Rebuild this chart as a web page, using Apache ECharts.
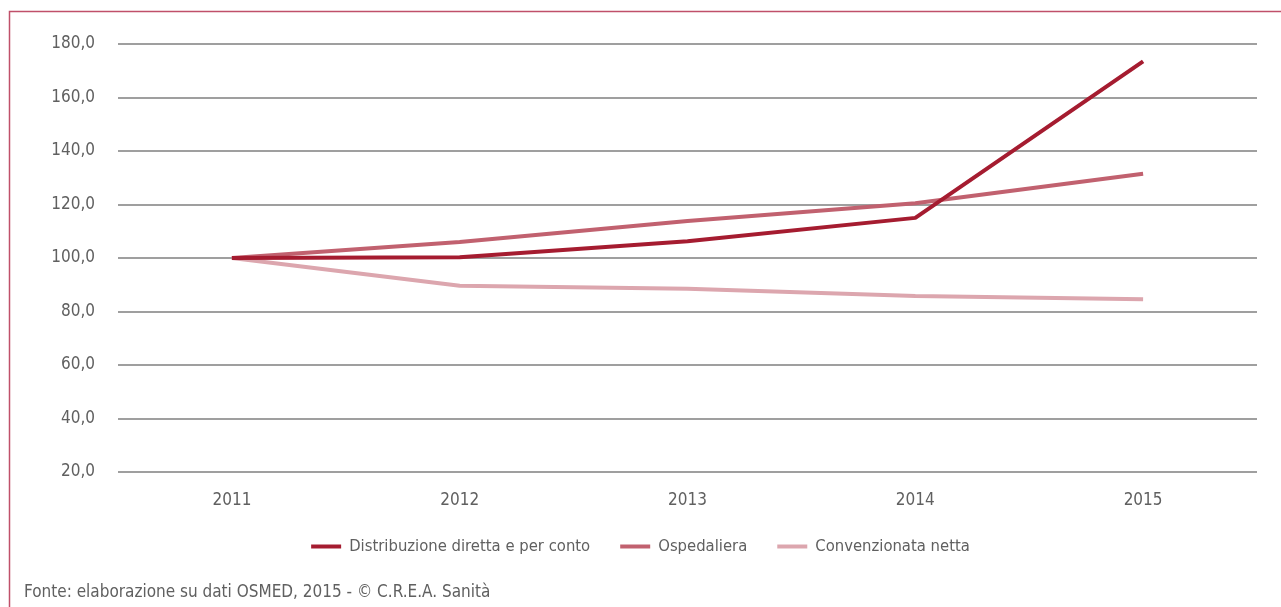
<!DOCTYPE html>
<html>
<head>
<meta charset="utf-8">
<style>
html,body{margin:0;padding:0;background:#fff;}
#c{width:1281px;height:607px;}
</style>
<script src="https://cdn.jsdelivr.net/npm/echarts@6/dist/echarts.min.js"></script>
</head>
<body>
<div id="c"></div>
<script>
const years = ['2011','2012','2013','2014','2015'];
const distribuzione = [100.0, 100.3, 106.3, 115.0, 173.5];
const ospedaliera = [100.0, 106.0, 113.8, 120.5, 131.5];
const convenzionata = [100.0, 89.6, 88.5, 85.8, 84.6];
const seriesNames = ['Distribuzione diretta e per conto', 'Ospedaliera', 'Convenzionata netta'];
const sourceText = 'Fonte: elaborazione su dati OSMED, 2015 - © C.R.E.A. Sanità';

const FONT = '"DejaVu Sans Condensed", "Liberation Sans", sans-serif';
const TXT = '#606060';
const colors = ['#a51c30', '#c1616f', '#dca6ae'];
const chart = echarts.init(document.getElementById('c'), null, {renderer: 'canvas'});
chart.setOption({
  animation: false,
  color: colors,
  textStyle: {fontFamily: FONT},
  grid: {left: 118, right: 24, top: 44, bottom: 135, containLabel: false},
  xAxis: {
    type: 'category',
    data: years,
    boundaryGap: true,
    axisLine: {show: false},
    axisTick: {show: false},
    axisLabel: {color: TXT, fontSize: 17, fontFamily: FONT, margin: 20}
  },
  yAxis: {
    type: 'value',
    min: 20, max: 180, interval: 20,
    axisLine: {show: false},
    axisTick: {show: false},
    axisLabel: {color: TXT, fontSize: 17, fontFamily: FONT, margin: 23,
      formatter: v => v.toFixed(1).replace('.', ',')},
    splitLine: {lineStyle: {color: '#7f7f7f', width: 1.5}}
  },
  legend: {
    bottom: 47,
    left: 'center',
    itemWidth: 30, itemHeight: 4, itemGap: 30,
    icon: 'rect',
    textStyle: {color: TXT, fontSize: 16.5, fontFamily: FONT, padding: [0, 0, 0, 3]},
    data: seriesNames
  },
  graphic: [
    {type: 'rect', shape: {x: 9.5, y: 11.5, width: 1400, height: 800},
     style: {fill: 'none', stroke: '#c0506a', lineWidth: 1.5}, silent: true},
    {type: 'text', left: 24, top: 584,
     style: {text: sourceText, fill: TXT, fontSize: 17, fontFamily: FONT}}
  ],
  series: [
    {name: seriesNames[0], type: 'line', data: distribuzione, symbol: 'none', lineStyle: {width: 4, color: colors[0]}, z: 3},
    {name: seriesNames[1], type: 'line', data: ospedaliera, symbol: 'none', lineStyle: {width: 4, color: colors[1]}, z: 2},
    {name: seriesNames[2], type: 'line', data: convenzionata, symbol: 'none', lineStyle: {width: 4, color: colors[2]}, z: 1}
  ]
});
</script>
</body>
</html>
